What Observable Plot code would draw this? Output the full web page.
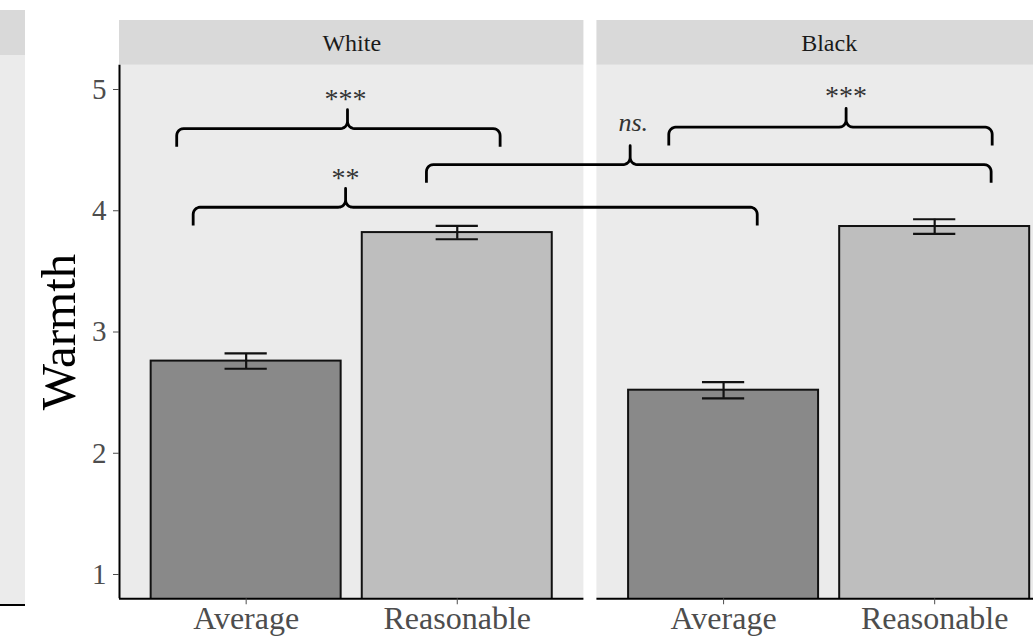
<!DOCTYPE html>
<html>
<head>
<meta charset="utf-8">
<script src="https://cdn.jsdelivr.net/npm/d3@7"></script>
<script src="https://cdn.jsdelivr.net/npm/@observablehq/plot@0.6"></script>
<style>
  html, body { margin: 0; padding: 0; background: #fff; overflow: hidden; width: 1033px; height: 638px; }
  #chart { position: absolute; left: 0; top: 0; }
  .frag { position: absolute; }
</style>
</head>
<body>
<div id="chart"></div>
<!-- edge of the neighbouring panel, cut off by the crop -->
<div class="frag" style="left:0;top:10px;width:25px;height:45px;background:#d9d9d9"></div>
<div class="frag" style="left:0;top:55px;width:25px;height:550px;background:#ebebeb"></div>
<div class="frag" style="left:0;top:604px;width:25px;height:2px;background:#000"></div>
<script>
// ---- data ----
const groups = ["White", "Black"];
const conditions = ["Average", "Reasonable"];
const meanWhite = [2.76, 3.82];
const meanBlack = [2.52, 3.87];
const seWhite = [0.063, 0.055];
const seBlack = [0.067, 0.060];
const yTicks = [1, 2, 3, 4, 5];
const yLabel = "Warmth";

// significance brackets (positions on the combined x axis: White bars at 1,2; Black bars at 3.26,4.26)
const bracketLabels = ["***", "**", "ns.", "***"];
const bracketX1 = [0.671, 0.749, 1.854, 3.002];
const bracketX2 = [2.203, 3.421, 4.529, 4.534];
const bracketMid = [1.480, 1.471, 2.819, 3.842];
const bracketY = [4.678, 4.029, 4.381, 4.689];
const bracketLabelX = [1.471, 1.471, 2.834, 3.842];
const bracketLabelY = [4.850, 4.196, 4.654, 4.870];

// ---- layout (facet-like arrangement on one continuous x scale) ----
const PANEL_SPAN = 2.2;      // 0.4 .. 2.6 per panel
const PANEL_GAP = 0.0616;
const STRIDE = PANEL_SPAN + PANEL_GAP;
const yDomain = [0.8, 5.2];
const STRIP_TOP = 5.569;
const pos = (gi, ci) => gi * STRIDE + ci + 1;

const panels = groups.map((g, gi) => ({
  name: g,
  x1: gi * STRIDE + 0.4,
  x2: gi * STRIDE + 0.4 + PANEL_SPAN,
  xc: gi * STRIDE + 1.5
}));

const rows = groups.flatMap((g, gi) => conditions.map((c, ci) => {
  const m = (gi === 0 ? meanWhite : meanBlack)[ci];
  const s = (gi === 0 ? seWhite : seBlack)[ci];
  return { group: g, condition: c, x: pos(gi, ci), mean: m, lo: m - s, hi: m + s };
}));
const labelByPos = new Map(rows.map(d => [d.x, d.condition]));

const brackets = bracketLabels.map((t, i) => ({
  id: i, label: t, x1: bracketX1[i], x2: bracketX2[i], mid: bracketMid[i], y: bracketY[i],
  lx: bracketLabelX[i], ly: bracketLabelY[i]
}));

// curly bracket geometry
const HOOK = 0.15, TIP = 0.155, RX = 0.033, RY = 0.058;
function arc(cx, cy, a0, a1, id, out) {
  const n = 6;
  for (let k = 0; k <= n; k++) {
    const a = a0 + (a1 - a0) * k / n;
    out.push({ id, x: cx + RX * Math.cos(a), y: cy + RY * Math.sin(a) });
  }
}
const bracketPts = [];
for (const b of brackets) {
  const { id, x1, x2, mid: m, y } = b;
  bracketPts.push({ id, x: x1, y: y - HOOK });
  arc(x1 + RX, y - RY, Math.PI, Math.PI / 2, id, bracketPts);
  arc(m - RX, y + RY, -Math.PI / 2, 0, id, bracketPts);
  bracketPts.push({ id, x: m, y: y + TIP });
  arc(m + RX, y + RY, Math.PI, 1.5 * Math.PI, id, bracketPts);
  arc(x2 - RX, y - RY, Math.PI / 2, 0, id, bracketPts);
  bracketPts.push({ id, x: x2, y: y - HOOK });
}

const xDomain = [0.4, 0.4 + STRIDE + PANEL_SPAN];
const pxPerUnit = 211.1;

const chart = Plot.plot({
  width: 1033,
  height: 638,
  marginLeft: 119,
  marginRight: 0,
  marginTop: 64.75,
  marginBottom: 39.75,
  style: { fontFamily: "'Liberation Serif', 'Times New Roman', serif", background: "white" },
  x: { domain: xDomain, range: [119, 119 + (xDomain[1] - xDomain[0]) * pxPerUnit] },
  y: { domain: yDomain, range: [598.25, 64.75] },
  color: { domain: conditions, range: ["#898989", "#bebebe"] },
  marks: [
    // panel backgrounds and strips
    Plot.rect(panels, { x1: "x1", x2: "x2", y1: yDomain[0], y2: yDomain[1], fill: "#ebebeb" }),
    Plot.rect(panels, { x1: "x1", x2: "x2", y1: yDomain[1], y2: STRIP_TOP, fill: "#d9d9d9" }),
    Plot.text(panels, { x: "xc", y: (yDomain[1] + STRIP_TOP) / 2, text: "name", fontSize: 24, fill: "#1a1a1a" }),
    // bars
    Plot.rectY(rows, { x1: d => d.x - 0.45, x2: d => d.x + 0.45, y: "mean", fill: "condition", stroke: "#111", strokeWidth: 2, clip: true }),
    // error bars
    Plot.ruleX(rows, { x: "x", y1: "lo", y2: "hi", stroke: "#111", strokeWidth: 2.2 }),
    Plot.ruleY(rows, { x1: d => d.x - 0.1, x2: d => d.x + 0.1, y: "hi", stroke: "#111", strokeWidth: 2.2 }),
    Plot.ruleY(rows, { x1: d => d.x - 0.1, x2: d => d.x + 0.1, y: "lo", stroke: "#111", strokeWidth: 2.2 }),
    // axis lines
    Plot.ruleX([xDomain[0]], { y1: yDomain[0], y2: yDomain[1], stroke: "#000", strokeWidth: 2 }),
    Plot.ruleY(panels, { x1: "x1", x2: "x2", y: yDomain[0], stroke: "#000", strokeWidth: 2 }),
    Plot.axisY({ ticks: yTicks, tickSize: 6, tickPadding: 7, fontSize: 29, color: "#4d4d4d", label: null, tickFormat: d => String(d) }),
    Plot.axisX({ ticks: rows.map(d => d.x), tickFormat: d => labelByPos.get(d), tickSize: 6, tickPadding: 2, fontSize: 32, color: "#4d4d4d", label: null }),
    Plot.text([yLabel], { frameAnchor: "left", textAnchor: "middle", lineAnchor: "bottom", rotate: -90, dx: -45, fontSize: 49, fill: "#000" }),
    // brackets
    Plot.line(bracketPts, { x: "x", y: "y", z: "id", stroke: "#000", strokeWidth: 2.8, strokeLinejoin: "round", strokeLinecap: "butt", curve: "linear" }),
    Plot.text(brackets.filter(d => d.label !== "ns."), { x: "lx", y: "ly", text: "label", lineAnchor: "bottom", fontSize: 28, fill: "#333" }),
    Plot.text(brackets.filter(d => d.label === "ns."), { x: "lx", y: "ly", text: "label", lineAnchor: "bottom", fontSize: 26, fontStyle: "italic", fill: "#333" })
  ]
});
document.getElementById("chart").appendChild(chart);
</script>
</body>
</html>
